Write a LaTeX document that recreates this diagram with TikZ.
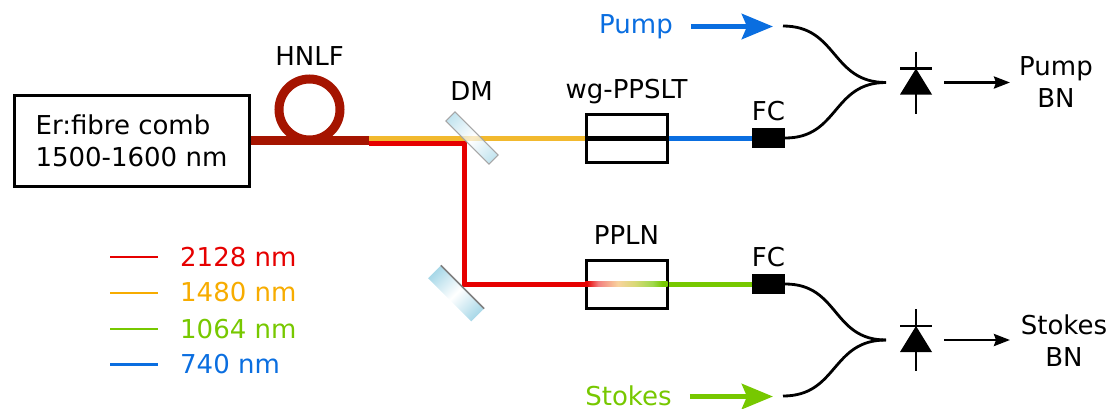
\documentclass[tikz,border=0pt]{standalone}
\usepackage{fontspec}
\setmainfont{DejaVu Sans}
\usepackage{xcolor}
\definecolor{lred}{HTML}{E60000}
\definecolor{lorange}{HTML}{F2B92E}
\definecolor{legorange}{HTML}{F7AC00}
\definecolor{lgreen}{HTML}{77C800}
\definecolor{lblue}{HTML}{0A6EE0}
\definecolor{fibre}{HTML}{A51400}
\definecolor{glass}{HTML}{A8D8E8}
\usetikzlibrary{arrows.meta, positioning}
\pgfdeclarehorizontalshading{redgreen}{100bp}{color(0bp)=(lred); color(26bp)=(lred); color(33bp)=(lred!50!white); color(45bp)=(lred!15!lorange!45!white); color(55bp)=(lgreen!40!lorange!60!white); color(66bp)=(lgreen!70!white); color(72bp)=(lgreen); color(100bp)=(lgreen)}

\begin{document}
\begin{tikzpicture}[
        x=1pt, y=-1pt,
        txt/.style={inner sep=0pt, font=\fontsize{26}{32}\selectfont},
        twoline/.style={txt, align=center},
        crystal/.style={rectangle, draw=black, line width=3pt, minimum width=81pt, minimum height=48pt, inner sep=0pt},
        connector/.style={rectangle, fill=black, minimum width=33pt, minimum height=20pt, inner sep=0pt},
        mirror/.style={rectangle, minimum width=61pt, inner sep=0pt, left color=glass, right color=glass, middle color=white},
        wire/.style={line width=5pt},
        legline/.style={line width=2.8pt},
        thin wire/.style={line width=2.8pt, black},
        beam/.style={-{Stealth[length=31pt, width=25pt, inset=5pt]}, line width=5.5pt},
        outarrow/.style={-{Stealth[length=16pt, width=12pt, inset=2pt]}, line width=2.8pt},
        diode/.pic={
            \draw [line width=2.8pt] (0,-31) -- (0,31);
            \draw [line width=2.8pt] (-16,-14) -- (16,-14);
            \fill (0,-14) -- (16,12) -- (-16,12) -- cycle;
        }
    ]
    \useasboundingbox (0,0) rectangle (1112,408);
    % source and fibre loop
    \node [rectangle, draw=black, line width=3pt, minimum width=235pt, minimum height=91pt, txt, align=left] (comb) at (131.5,140.5) {Er:fibre comb\\1500-1600 nm};
    \node [circle, draw=fibre, line width=9pt, minimum size=61pt, inner sep=0pt] (hnlf) at (309.5,109.5) {};
    \node [txt, above=9pt of hnlf] (hnlflab) {HNLF};
    \coordinate (split) at (369,140.5);
    \coordinate (splitorange) at (369,138);
    \coordinate (splitred) at (369,143);
    \coordinate (corner) at (464,284);
    % crystals and connectors
    \node [crystal] (ppslt) at (626.5,138) {};
    \node [crystal] (ppln) at (626.5,284) {};
    \node [connector] (fcup) at (768.5,138) {};
    \node [connector] (fclow) at (768.5,284) {};
    \node [txt, above=14pt of ppslt, anchor=base] (ppsltlab) {wg-PPSLT};
    \node [txt, above=14pt of ppln, anchor=base] (pplnlab) {PPLN};
    \node [txt, above=7pt of fcup] (fcuplab) {FC};
    \node [txt, above=7pt of fclow] (fclowlab) {FC};
    % beams
    \draw [wire, lorange] (splitorange) -- (ppslt.west);
    \draw [wire, lred] (splitred) -| (corner) -- (ppln.west);
    \draw [wire, line width=9pt, fibre] (comb.east) -- (split);
    \draw [wire, black] (ppslt.west) -- (ppslt.east);
    \draw [wire, lblue] (ppslt.east) -- (fcup.west);
    \shade [shading=redgreen] (585,281.5) rectangle (667.5,286.5);
    \draw [wire, lgreen] (ppln.east) -- (fclow.west);
    % mirrors
    \begin{scope}[transform canvas={rotate around={-45:(472,138)}}]
        \node [mirror, minimum height=13pt, draw=gray!70, line width=1pt, fill opacity=0.7] (dm) at (472,138) {};
    \end{scope}
    \begin{scope}[transform canvas={rotate around={-45:(456,293.5)}}]
        \node [mirror, minimum height=18pt] (turn) at (456,293.5) {};
        \draw [gray, line width=1.5pt] (turn.north west) -- (turn.north east);
    \end{scope}
    \node [txt] (dmlab) at (471.5,91) {DM};
    % upper detection
    \node [txt, text=lblue] (pump) at (636,27) {Pump};
    \coordinate (pumpin) at (773,26.5);
    \coordinate (pumpend) at (783,26);
    \coordinate (mergeup) at (886,82.5);
    \coordinate (pdup) at (916,82.5);
    \coordinate (pumpout) at (1010,82.5);
    \node [twoline] (pumpbn) at (1056,82.5) {Pump\\BN};
    \draw [beam, lblue] ([xshift=18pt]pump.east |- pumpin) -- (pumpin);
    \draw [thin wire] (pumpend) to[out=0, in=180, looseness=1.2] (mergeup);
    \draw [thin wire] (fcup.east) to[out=0, in=180, looseness=1.2] (mergeup);
    \pic at (pdup) {diode};
    \draw [outarrow] ([xshift=28pt]pdup) -- (pumpout);
    % lower detection
    \node [txt, text=lgreen] (stokes) at (628.5,395.5) {Stokes};
    \coordinate (stokesin) at (773,396.5);
    \coordinate (stokesend) at (783,396);
    \coordinate (mergelow) at (886,340);
    \coordinate (pdlow) at (916,340);
    \coordinate (stokesout) at (1010,340);
    \node [twoline] (stokesbn) at (1064,341) {Stokes\\BN};
    \draw [beam, lgreen] ([xshift=18pt]stokes.east |- stokesin) -- (stokesin);
    \draw [thin wire] (fclow.east) to[out=0, in=180, looseness=1.2] (mergelow);
    \draw [thin wire] (stokesend) to[out=0, in=180, looseness=1.2] (mergelow);
    \pic at (pdlow) {diode};
    \draw [outarrow] ([xshift=28pt]pdlow) -- (stokesout);
    % legend
    \foreach \yy/\ty/\col/\lab/\nm in {257/257/lred/2128 nm/a, 293/292/legorange/1480 nm/b, 329/329/lgreen/1064 nm/c, 364.5/364/lblue/740 nm/d} {
        \coordinate (leg\nm) at (110,\yy);
        \node [txt, text=\col, anchor=west] (leglab\nm) at (180,\ty) {\lab};
        \draw [legline, \col] (leg\nm) -- ++(48,0);
    }
\end{tikzpicture}
\end{document}
